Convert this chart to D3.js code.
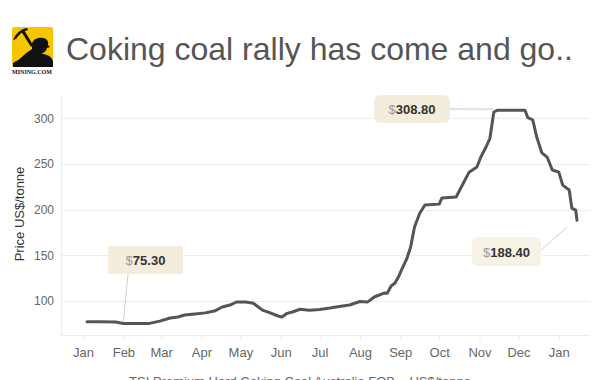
<!DOCTYPE html>
<html>
<head>
<meta charset="utf-8">
<script src="https://cdn.jsdelivr.net/npm/d3@7"></script>
<style>
  body { margin: 0; background: #fff; }
  svg { display: block; font-family: "Liberation Sans", Arial, sans-serif; }
</style>
</head>
<body>
<svg id="chart" width="592" height="380"></svg>
<script>
// Coking coal price, TSI Premium Hard Coking Coal Australia FOB (US$/tonne)
const dates = [
  "2016-01-04","2016-01-14","2016-01-26","2016-02-01","2016-02-10","2016-02-21","2016-02-29",
  "2016-03-08","2016-03-14","2016-03-19","2016-03-27","2016-04-04","2016-04-11","2016-04-17",
  "2016-04-23","2016-04-28","2016-05-05","2016-05-11","2016-05-18","2016-05-24","2016-05-30",
  "2016-06-02","2016-06-06","2016-06-10","2016-06-16","2016-06-23","2016-07-01","2016-07-09",
  "2016-07-16","2016-07-24","2016-08-01","2016-08-07","2016-08-12","2016-08-20","2016-08-22",
  "2016-08-25","2016-08-28","2016-08-31","2016-09-02","2016-09-06","2016-09-09","2016-09-12",
  "2016-09-16","2016-09-20","2016-10-01","2016-10-03","2016-10-14","2016-10-18","2016-10-24",
  "2016-10-30","2016-11-02","2016-11-06","2016-11-09","2016-11-12","2016-11-15","2016-12-06",
  "2016-12-08","2016-12-12","2016-12-15","2016-12-19","2016-12-23","2016-12-27","2017-01-01",
  "2017-01-04","2017-01-09","2017-01-11","2017-01-14","2017-01-15"
];
const prices = [
  77.3, 77.3, 77.0, 75.3, 75.3, 75.5, 78.0,
  81.4, 82.5, 84.7, 85.8, 87.0, 89.0, 93.4,
  95.6, 98.9, 98.9, 97.5, 90.0, 87.0, 83.6,
  82.5, 86.5, 88.0, 91.0, 90.0, 90.7, 92.3,
  94.0, 95.6, 99.5, 99.0, 104.4, 108.8, 108.4,
  116.4, 119.7, 127.4, 134.0, 146.0, 159.0, 181.0,
  196.0, 205.0, 206.0, 212.7, 213.8, 224.7, 241.0,
  246.6, 257.5, 268.5, 278.0, 306.8, 308.8, 308.8,
  301.0, 298.0, 279.4, 262.0, 257.5, 243.3, 241.0,
  226.8, 221.4, 201.7, 199.5, 188.4
];
const yTicks = [100, 150, 200, 250, 300];
const monthTicks = ["2016-01-01","2016-02-01","2016-03-01","2016-04-01","2016-05-01","2016-06-01",
  "2016-07-01","2016-08-01","2016-09-01","2016-10-01","2016-11-01","2016-12-01","2017-01-01"];
const noteDates = ["2016-02-01", "2016-11-15", "2017-01-15"];
const noteLabels = ["75.30", "308.80", "188.40"];

const parse = d3.utcParse("%Y-%m-%d");
const data = dates.map((d, i) => ({ date: parse(d), value: prices[i] }));

const svg = d3.select("#chart");
const plotLeft = 61, plotRight = 590, plotTop = 95, plotBottom = 335;

const x = d3.scaleUtc()
  .domain([parse("2015-12-15"), parse("2017-01-25")])
  .range([plotLeft, plotRight]);

const y = d3.scaleLinear()
  .domain([62.8, 325.4])
  .range([plotBottom, plotTop]);

// logo
const logo = svg.append("g").attr("transform", "translate(12,27)");
logo.append("rect").attr("width", 41).attr("height", 40).attr("rx", 2).attr("fill", "#f7c600");
logo.append("path")
  .attr("fill", "#111")
  .attr("d", "M1,13 C4,6 9,2 15,1 L16,3 C11,4 7,7 4,12 Z M9,4 L12,3 L21,18 L19,20 Z " +
             "M20,17 C21,12 26,10 31,11 C34,11 37,14 36,18 L38,20 L35,21 C34,25 31,27 28,26 " +
             "L35,28 C38,29 40,31 41,34 L41,40 L1,40 L1,36 C5,34 9,31 12,28 C14,26 17,24 20,22 Z");
svg.append("text")
  .attr("x", 32).attr("y", 74)
  .attr("text-anchor", "middle")
  .style("font-family", "'Liberation Serif', serif")
  .style("font-size", "6px")
  .style("font-weight", "bold")
  .attr("fill", "#111")
  .text("MINING.COM");

// title
svg.append("text")
  .attr("x", 66).attr("y", 60)
  .style("font-size", "32px")
  .attr("fill", "#555")
  .text("Coking coal rally has come and go..");

// grid
svg.append("g")
  .selectAll("line")
  .data(yTicks)
  .join("line")
  .attr("x1", plotLeft).attr("x2", plotRight)
  .attr("y1", d => Math.round(y(d)) + 0.5).attr("y2", d => Math.round(y(d)) + 0.5)
  .attr("stroke", "#ececec");

// y axis
const yAxis = svg.append("g")
  .attr("transform", `translate(${plotLeft},0)`)
  .call(d3.axisLeft(y).tickValues(yTicks).tickSize(0).tickPadding(7));
yAxis.select(".domain").attr("stroke", "#ececec").attr("d", `M0.5,${plotTop}V${plotBottom}`);
yAxis.selectAll("text").attr("fill", "#666").style("font-size", "12px").style("font-family", "'Liberation Sans', Arial, sans-serif");

// x axis
const xAxis = svg.append("g")
  .attr("transform", `translate(0,${plotBottom})`)
  .call(d3.axisBottom(x).tickValues(monthTicks.map(parse)).tickFormat(d3.utcFormat("%b")).tickSize(5).tickPadding(8));
xAxis.select(".domain").attr("stroke", "#ececec").attr("d", `M${plotLeft},0.5H${plotRight}`);
xAxis.selectAll(".tick line").attr("stroke", "#ececec");
xAxis.selectAll("text").attr("fill", "#666").style("font-size", "13px").style("font-family", "'Liberation Sans', Arial, sans-serif");

// axis title
svg.append("text")
  .attr("transform", "translate(24,214) rotate(-90)")
  .attr("text-anchor", "middle")
  .style("font-size", "13px")
  .attr("fill", "#333")
  .text("Price US$/tonne");

// caption
svg.append("text")
  .attr("x", 300).attr("y", 386)
  .attr("text-anchor", "middle")
  .style("font-size", "13px")
  .attr("fill", "#666")
  .text("TSI Premium Hard Coking Coal Australia FOB – US$/tonne");

// price line
svg.append("path")
  .datum(data)
  .attr("fill", "none")
  .attr("stroke", "#555")
  .attr("stroke-width", 3)
  .attr("stroke-linejoin", "round")
  .attr("stroke-linecap", "round")
  .attr("d", d3.line().x(d => x(d.date)).y(d => y(d.value)));

// annotations: box offset relative to the annotated point
const noteLayout = [
  { bx: -15, by: -78, w: 75, h: 28, rx: 0, lx: 20, ly: 28, ex: 0, ey: -2, fill: "#f4ecdd" },
  { bx: -124, by: -15, w: 76, h: 28, rx: 6, lx: 76, ly: 14, ex: -4, ey: -1, fill: "#f4ecdd" },
  { bx: -105, by: 17, w: 69, h: 29, rx: 6, lx: 69, ly: 13, ex: -10, ey: 7, fill: "#f7f2e6" }
];

noteDates.forEach((nd, i) => {
  const p = data.find(d => +d.date === +parse(nd));
  const px = x(p.date), py = y(p.value);
  const L = noteLayout[i];
  const bx = Math.round(px + L.bx), by = Math.round(py + L.by);
  svg.append("line")
    .attr("x1", bx + L.lx).attr("y1", by + L.ly)
    .attr("x2", px + L.ex).attr("y2", py + L.ey)
    .attr("stroke", i === 1 ? "#e2e2e2" : "#d0d0d0")
    .attr("stroke-width", i === 1 ? 2 : 1);
  svg.append("rect")
    .attr("x", bx).attr("y", by)
    .attr("width", L.w).attr("height", L.h)
    .attr("rx", L.rx)
    .attr("fill", L.fill);
  const t = svg.append("text")
    .attr("x", bx + L.w / 2).attr("y", by + L.h / 2 + 5)
    .attr("text-anchor", "middle")
    .style("font-size", "13px")
    .style("font-weight", "bold");
  t.append("tspan").attr("fill", "#999").style("font-weight", "normal").text("$");
  t.append("tspan").attr("fill", "#333").text(noteLabels[i]);
});
</script>
</body>
</html>
